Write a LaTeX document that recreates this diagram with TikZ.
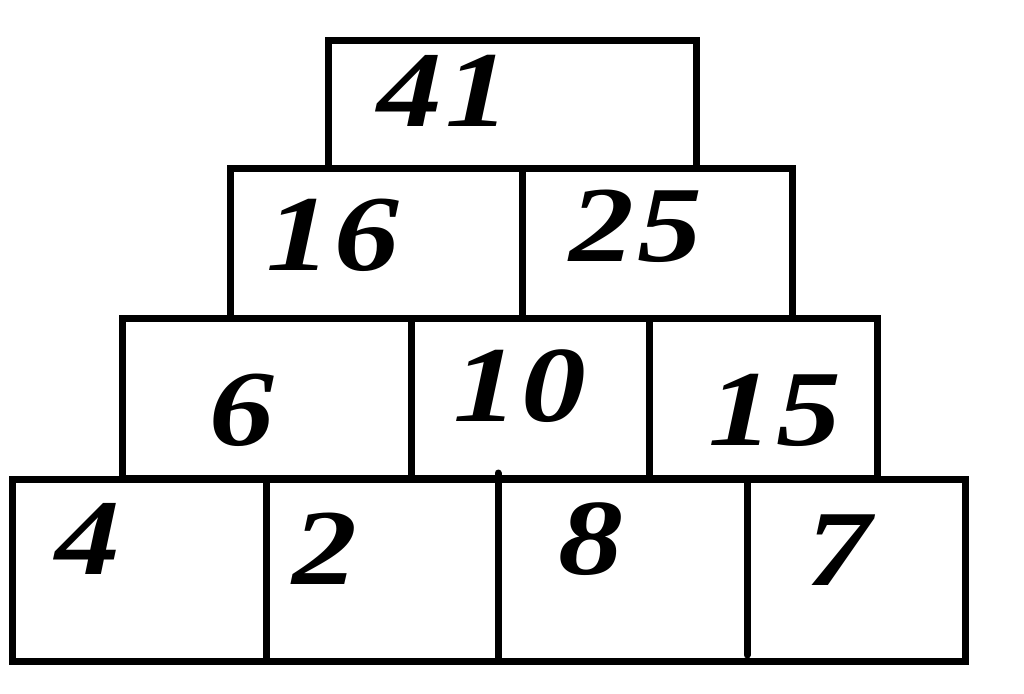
\documentclass[tikz,border=0pt]{standalone}
\usepackage{fontspec}
\setmainfont{Liberation Serif}
\newfontfamily\numfont[FakeStretch=1.2,LetterSpace=3]{Liberation Serif}
\begin{document}
\begin{tikzpicture}[x=1pt,y=-1pt,
  cell/.style={rectangle,draw=black,line width=7pt,inner sep=0pt,outer sep=0pt},
  freecell/.style={rectangle,inner sep=0pt,outer sep=0pt},
  num/.style={inner sep=0pt,outer sep=0pt,font=\numfont\fontsize{108}{110}\selectfont\bfseries\itshape},
  edge/.style={line width=7pt}]
\useasboundingbox[fill=white] (0,0) rectangle (1024,693);
% row 1
\node[cell,minimum width=368pt,minimum height=127pt] (r1) at (512,104.5) {};
% row 2
\node[cell,minimum width=292pt,minimum height=150pt] (r2a) at (376,243) {};
\node[cell,minimum width=270pt,minimum height=150pt] (r2b) at (657,243) {};
% row 3
\node[cell,minimum width=289pt,minimum height=160pt] (r3a) at (266.5,398) {};
\node[cell,minimum width=238pt,minimum height=160pt] (r3b) at (530,398) {};
\node[cell,minimum width=228pt,minimum height=160pt] (r3c) at (763,398) {};
% row 4
\node[freecell,minimum width=254pt,minimum height=182pt] (r4a) at (139,570) {};
\node[freecell,minimum width=232pt,minimum height=182pt] (r4b) at (382,570) {};
\node[freecell,minimum width=249pt,minimum height=182pt] (r4c) at (622.5,570) {};
\node[freecell,minimum width=218pt,minimum height=182pt] (r4d) at (856,570) {};
\draw[edge] (r4a.north west) rectangle (r4d.south east);
\draw[edge] (r4a.north east) -- (r4a.south east);
\draw[edge,line cap=round] ([yshift=6pt]r4b.north east) -- (r4b.south east);
\draw[edge,line cap=round] (r4c.north east) -- ([yshift=6pt]r4c.south east);
% numbers
\node[num] (n41) at (444,91) {41};
\node[num] (n16) at (333,235) {16};
\node[num] (n25) at (636,226) {25};
\node[num] (n6) at (242,410) {6};
\node[num] (n10) at (520,386) {10};
\node[num] (n15) at (775,410) {15};
\node[num] (n4) at (88,539) {4};
\node[num] (n2) at (325,549) {2};
\node[num] (n8) at (591,539) {8};
\node[num] (n7) at (839,550) {7};
\end{tikzpicture}
\end{document}
